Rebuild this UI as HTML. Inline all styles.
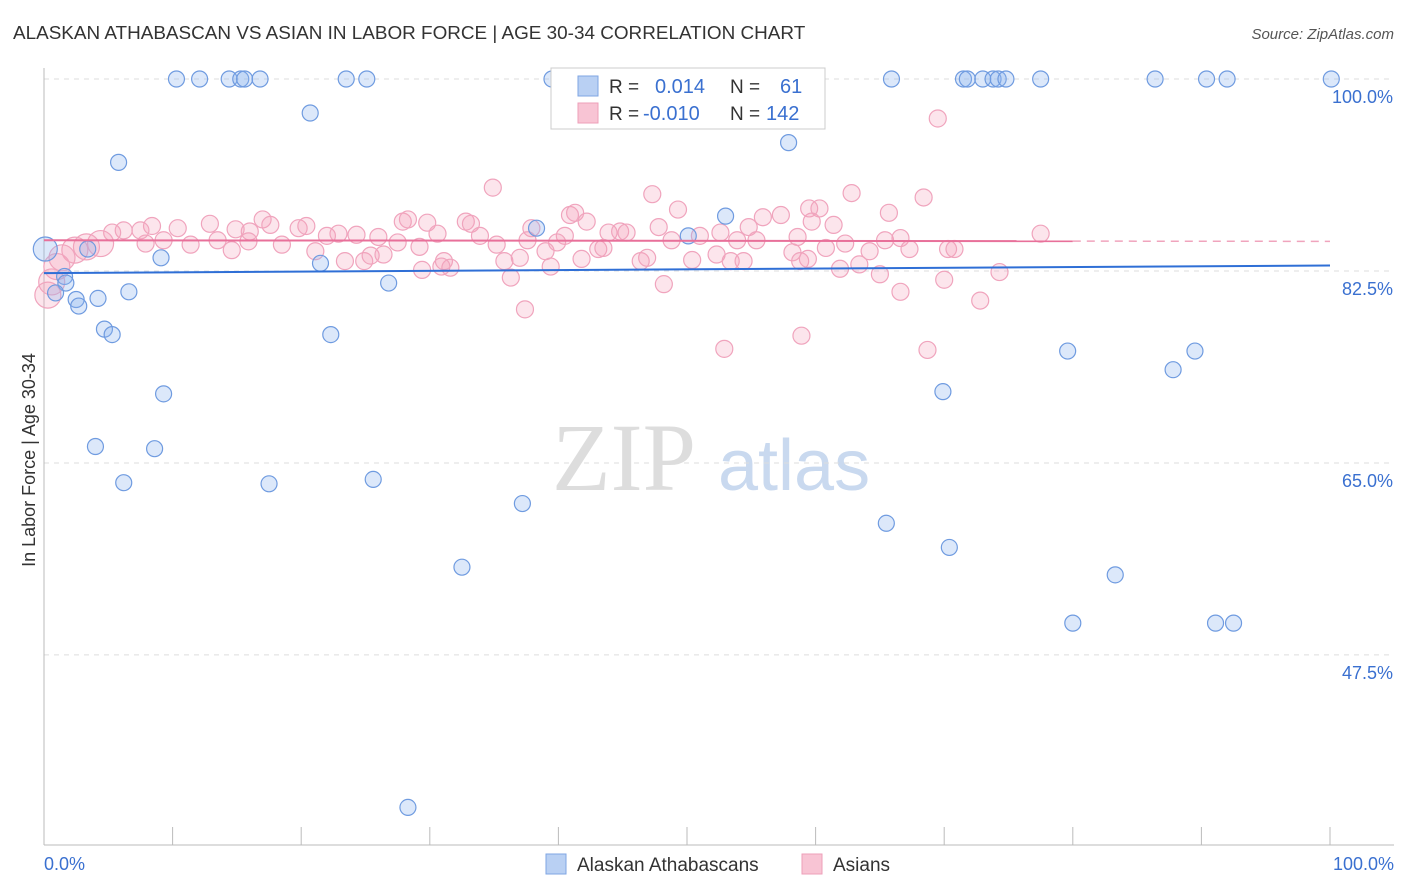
<!DOCTYPE html>
<html><head><meta charset="utf-8"><style>
body{margin:0;background:#fff;font-family:"Liberation Sans",sans-serif;}
svg{display:block}
</style></head><body>
<svg id="chart" width="1406" height="892">
<text x="13" y="39" font-size="18.9" fill="#333">ALASKAN ATHABASCAN VS ASIAN IN LABOR FORCE | AGE 30-34 CORRELATION CHART</text>
<text x="1394" y="39" font-size="15" fill="#555" font-style="italic" text-anchor="end">Source: ZipAtlas.com</text>
<text x="35" y="460" font-size="18" fill="#333" text-anchor="middle" transform="rotate(-90 35 460)">In Labor Force | Age 30-34</text>
<text x="552" y="490" font-size="96" fill="#ddd" font-family="Liberation Serif,serif">ZIP</text>
<text x="718" y="490" font-size="72" fill="#c9d9ef">atlas</text>
<g id="grid"></g><g id="pts"></g><g id="lines"></g>
<g>
<rect x="551" y="68" width="274" height="61" fill="#fff" stroke="#ccc"/>
<rect x="578" y="76" width="20" height="20" fill="#b9d0f3" stroke="#7fa6e3"/>
<rect x="578" y="103" width="20" height="20" fill="#f8c4d4" stroke="#ee9fb9"/>
<text x="609" y="93" font-size="19" fill="#333">R = </text><text x="655" y="93" font-size="20" fill="#3a70d0">0.014</text>
<text x="730" y="93" font-size="19" fill="#333">N = </text><text x="780" y="93" font-size="20" fill="#3a70d0">61</text>
<text x="609" y="120" font-size="19" fill="#333">R = </text><text x="643" y="120" font-size="20" fill="#3a70d0">-0.010</text>
<text x="730" y="120" font-size="19" fill="#333">N = </text><text x="766" y="120" font-size="20" fill="#3a70d0">142</text>
</g>
<g>
<rect x="546" y="854" width="20" height="20" fill="#b9d0f3" stroke="#7fa6e3"/>
<text x="577" y="871" font-size="19" fill="#333">Alaskan Athabascans</text>
<rect x="802" y="854" width="20" height="20" fill="#f8c4d4" stroke="#ee9fb9"/>
<text x="833" y="871" font-size="19" fill="#333">Asians</text>
</g>
<text x="44" y="870" font-size="18" fill="#3a70d0">0.0%</text>
<text x="1394" y="870" font-size="18" fill="#3a70d0" text-anchor="end">100.0%</text>
</svg>
<script>
const yTicks=[100,82.5,65,47.5];
const yTickLabels=["100.0%","82.5%","65.0%","47.5%"];
const xTicks=[0,10,20,30,40,50,60,70,80,90,100];
const blueX=[10.3,12.1,14.4,15.3,15.6,16.8,23.5,25.1,39.5,65.9,71.5,71.8,73.0,73.8,74.2,74.8,77.5,86.4,90.4,92.0,100.1,20.7,5.8,57.9,53.0,38.3,50.1,0.1,3.4,9.1,21.5,1.6,1.7,26.8,0.9,6.6,4.2,2.5,2.7,4.7,5.3,22.3,79.6,89.5,87.8,9.3,69.9,4.0,8.6,6.2,17.5,25.6,37.2,65.5,70.4,32.5,83.3,80.0,91.1,92.5,28.3];
const blueY=[100,100,100,100,100,100,100,100,100,100,100,100,100,100,100,100,100,100,100,100,100,96.9,92.4,94.2,87.5,86.4,85.7,84.5,84.5,83.7,83.2,82.0,81.4,81.4,80.5,80.6,80.0,79.9,79.3,77.2,76.7,76.7,75.2,75.2,73.5,71.3,71.5,66.5,66.3,63.2,63.1,63.5,61.3,59.5,57.3,55.5,54.8,50.4,50.4,50.4,33.6];
const pinkX=[69.5,34.9,47.3,62.8,68.4,49.3,59.5,65.7,60.3,40.9,41.3,17.0,27.9,28.3,32.8,37.9,12.9,29.8,33.2,42.2,47.8,54.8,55.9,57.3,59.7,61.4,77.5,8.4,10.4,6.2,5.3,7.5,14.9,16.0,17.6,19.8,20.4,22.0,22.9,24.3,26.0,27.5,30.6,33.9,37.6,40.5,43.9,44.8,45.3,48.8,51.0,52.6,53.9,55.4,58.6,60.8,62.3,64.2,65.4,66.6,67.3,70.3,70.8,4.4,3.3,2.4,1.4,1.0,0.6,0.3,7.9,9.3,11.4,13.5,14.6,15.9,18.5,21.1,23.4,24.9,25.4,26.4,29.2,31.1,31.6,35.2,35.8,37.0,39.0,39.4,39.9,41.8,43.1,43.5,46.4,46.9,50.4,52.3,53.4,54.4,58.2,58.8,59.4,61.9,63.4,65.0,70.0,74.3,29.4,30.9,36.3,48.2,66.6,72.8,37.4,58.9,52.9,68.7];
const pinkY=[96.4,90.1,89.5,89.6,89.2,88.1,88.2,87.8,88.2,87.6,87.8,87.2,87.0,87.2,87.0,86.4,86.8,86.9,86.8,87.0,86.5,86.5,87.4,87.6,87.0,86.7,85.9,86.6,86.4,86.2,86.0,86.2,86.3,86.1,86.7,86.4,86.6,85.7,85.9,85.8,85.6,85.1,85.9,85.7,85.3,85.7,86.0,86.1,86.0,85.3,85.7,86.0,85.3,85.3,85.6,84.6,85.0,84.3,85.3,85.5,84.5,84.5,84.5,85.0,84.7,84.4,83.7,82.9,81.5,80.3,85.0,85.3,84.9,85.3,84.4,85.2,84.9,84.3,83.4,83.4,83.9,84.0,84.7,83.4,82.8,84.9,83.4,83.7,84.3,82.9,85.1,83.6,84.5,84.6,83.4,83.7,83.5,84.0,83.4,83.4,84.2,83.4,83.6,82.7,83.1,82.2,81.7,82.4,82.6,82.9,81.9,81.3,80.6,79.8,79.0,76.6,75.4,75.3];
const pinkBigIdx=[63,64,65,66,67,68,69];
const blueFit=[82.3,83.0];
const pinkFit=[85.3,85.2];
const X0=44,X1=1330,Y100=79,PXP=10.97;
const xs=v=>X0+(X1-X0)*v/100;
const ys=v=>Y100+(100-v)*PXP;
const NS="http://www.w3.org/2000/svg";
function mk(tag,attrs,parent){const e=document.createElementNS(NS,tag);for(const k in attrs)e.setAttribute(k,attrs[k]);parent.appendChild(e);return e;}
const grid=document.getElementById('grid'),pts=document.getElementById('pts'),lines=document.getElementById('lines');
yTicks.forEach((t,i)=>{
 const l=mk('line',{x1:44,x2:1394,y1:ys(t),y2:ys(t),stroke:'#ddd','stroke-dasharray':'5,5'},grid);
 
 
 const tx=mk('text',{x:1393,y:ys(t)+24,'font-size':18,fill:'#3a70d0','text-anchor':'end'},grid);
 tx.textContent=yTickLabels[i];
 
 
});
const ax=mk('line',{x1:44,x2:44,y1:68,y2:845,stroke:'#bbb'},grid);


const bx=mk('line',{x1:44,x2:1394,y1:845,y2:845,stroke:'#bbb'},grid);


xTicks.forEach(t=>{
 const l=mk('line',{x1:xs(t),x2:xs(t),y1:827,y2:845,stroke:'#bbb'},grid);
 
 
});
pinkX.forEach((v,i)=>{
 const big=pinkBigIdx.includes(i);
 const c=mk('circle',{cx:xs(v),cy:ys(pinkY[i]),r:big?13:8.5,fill:'rgba(244,160,188,0.28)',stroke:'#f0a4bd','stroke-width':1.2},pts);
 
 
});
blueX.forEach((v,i)=>{
 const c=mk('circle',{cx:xs(v),cy:ys(blueY[i]),r:i==27?12:8,fill:'rgba(140,180,240,0.3)',stroke:'#6f9be0','stroke-width':1.2},pts);
 
 
});
const bl=mk('line',{x1:xs(0),x2:xs(100),y1:ys(blueFit[0]),y2:ys(blueFit[1]),stroke:'#2f6fd6','stroke-width':2},lines);


const pyAt=x=>pinkFit[0]+(pinkFit[1]-pinkFit[0])*x/100;
const pl=mk('line',{x1:xs(0),x2:xs(80),y1:ys(pyAt(0)),y2:ys(pyAt(80)),stroke:'#e8709a','stroke-width':2},lines);


const pd=mk('line',{x1:xs(80),x2:xs(100),y1:ys(pyAt(80)),y2:ys(pyAt(100)),stroke:'#f0a4bd','stroke-width':1.5,'stroke-dasharray':'8,6'},lines);


</script>
</body></html>
